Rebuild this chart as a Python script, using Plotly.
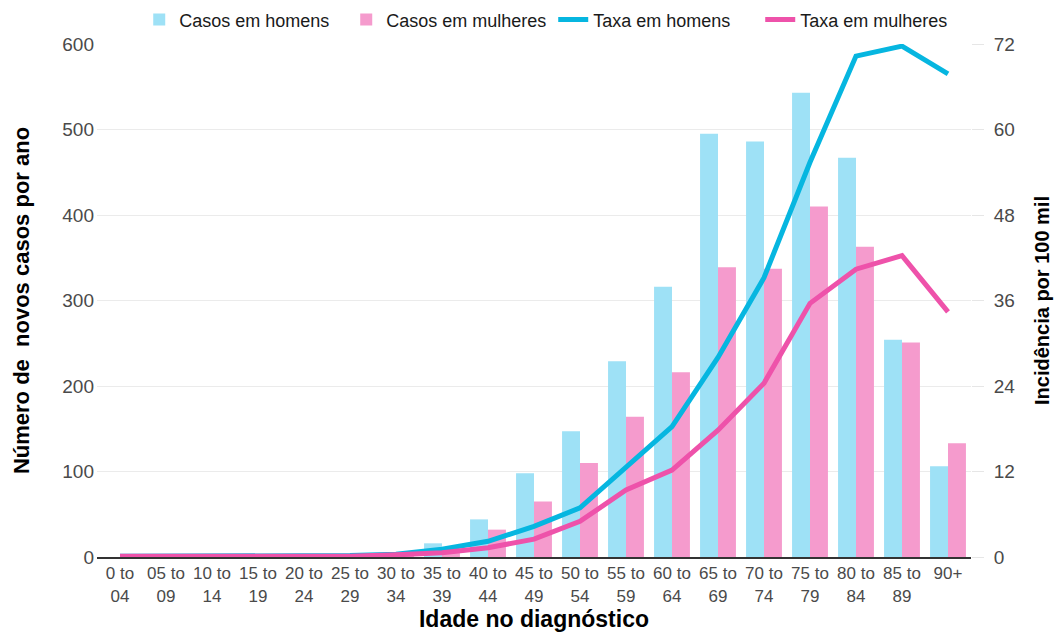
import plotly.graph_objects as go

categories = ["0 to<br>04", "05 to<br>09", "10 to<br>14", "15 to<br>19", "20 to<br>24",
              "25 to<br>29", "30 to<br>34", "35 to<br>39", "40 to<br>44", "45 to<br>49",
              "50 to<br>54", "55 to<br>59", "60 to<br>64", "65 to<br>69", "70 to<br>74",
              "75 to<br>79", "80 to<br>84", "85 to<br>89", "90+"]
casos_homens = [0, 0, 0, 0, 1, 1, 3, 16, 44, 98, 147, 229, 316, 495, 486, 543, 467, 254, 106]
casos_mulheres = [0, 0, 0, 0, 1, 1, 2, 5, 32, 65, 110, 164, 216, 339, 337, 410, 363, 251, 133]
taxa_homens = [0.1, 0.1, 0.1, 0.1, 0.1, 0.2, 0.4, 1.1, 2.2, 4.3, 6.9, 12.7, 18.3, 28.0, 39.2, 55.4, 70.3, 71.7, 67.8]
taxa_mulheres = [0.1, 0.1, 0.1, 0.1, 0.1, 0.1, 0.3, 0.6, 1.3, 2.5, 5.0, 9.4, 12.2, 17.8, 24.4, 35.6, 40.4, 42.3, 34.4]

left_ticks = [0, 100, 200, 300, 400, 500, 600]
right_ticks = [0, 12, 24, 36, 48, 60, 72]

FONT = "Liberation Sans, Arial, sans-serif"

fig = go.Figure()
fig.add_trace(go.Bar(x=categories, y=casos_homens, name="Casos em homens",
                     marker=dict(color="#9ee1f6", line=dict(width=0))))
fig.add_trace(go.Bar(x=categories, y=casos_mulheres, name="Casos em mulheres",
                     marker=dict(color="#f59bcd", line=dict(width=0))))
fig.add_trace(go.Scatter(x=categories, y=taxa_homens, name="Taxa em homens", mode="lines",
                         line=dict(color="#06b6e0", width=5), yaxis="y2"))
fig.add_trace(go.Scatter(x=categories, y=taxa_mulheres, name="Taxa em mulheres", mode="lines",
                         line=dict(color="#ee52aa", width=5), yaxis="y2"))

tickfont = dict(family=FONT, size=19, color="#4a4a4a")

fig.update_layout(
    width=1057, height=632,
    margin=dict(l=97, r=86, t=44, b=75, autoexpand=False),
    paper_bgcolor="white", plot_bgcolor="white",
    barmode="group", bargap=0.22, bargroupgap=0,
    font=dict(family=FONT),
    legend=dict(orientation="h", x=0.522, xanchor="center", y=1.047, yanchor="middle",
                font=dict(size=18, color="#1a1a1a"), itemwidth=30,
                entrywidth=162, entrywidthmode="pixels",
                traceorder="normal", bgcolor="rgba(0,0,0,0)"),
    xaxis=dict(tickfont=dict(family=FONT, size=17, color="#4a4a4a"),
               showline=True, linecolor="#333333", linewidth=2, ticks="",
               title=dict(text="Idade no diagnóstico",
                          font=dict(family=FONT, size=23, color="#000000", weight="bold"),
                          standoff=14),
               showgrid=False, tickangle=0),
    yaxis=dict(range=[0, 600], tickvals=left_ticks, tickfont=tickfont,
               showgrid=True, gridcolor="#ebebeb", gridwidth=1, zeroline=False,
               ticks="", ticklabelstandoff=2,
               title=dict(text="Número de  novos casos por ano",
                          font=dict(family=FONT, size=22, color="#000000", weight="bold"),
                          standoff=26)),
    yaxis2=dict(range=[0, 72], tickvals=right_ticks, tickfont=tickfont, overlaying="y", side="right",
                showgrid=False, zeroline=False, ticks="outside", ticklen=12, tickcolor="#e6e6e6",
                ticklabelstandoff=6,
                title=dict(text="Incidência por 100 mil",
                           font=dict(family=FONT, size=20, color="#000000", weight="bold"),
                           standoff=20)),
)

fig.write_html("out.html", config={"displayModeBar": False},
               post_script="document.body.style.margin='0px';document.body.style.padding='0px';")
